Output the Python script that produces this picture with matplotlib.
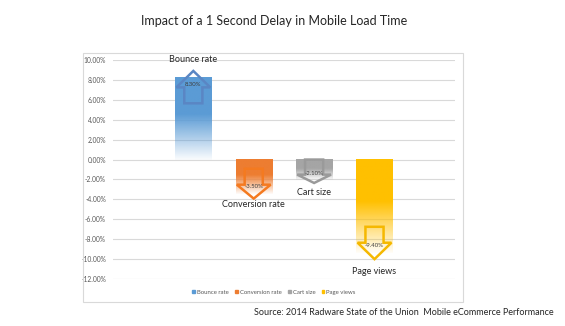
import numpy as np
import matplotlib.pyplot as plt
import matplotlib.patches as mpatches
from matplotlib.colors import to_rgb

plt.rcParams['font.family'] = ['Lato', 'DejaVu Sans']

metrics = ['Bounce rate', 'Conversion rate', 'Cart size', 'Page views']
impact = [8.3, -3.5, -2.1, -9.4]
yticks = list(range(-12, 11, 2))

colors = ['#5B9BD5', '#ED7D31', '#A5A5A5', '#FFC000']
edge_colors = ['#5A86C4', '#F47A20', '#9A9A9A', '#F5B800']
name_pad = [0.7, 0.15, 0.5, 0.8]   # gap between arrow tip and metric name

fig = plt.figure(figsize=(5.65, 3.26), dpi=100)
ax = fig.add_axes([0.2, 0.144, 0.605, 0.672])
xs = np.arange(len(metrics))
bar_w = 0.6

# bars: solid at top, fading out towards the bottom
t = np.linspace(0, 1, 120)
alpha = np.where(t < 0.45, 1.0, 1.0 - (t - 0.45) / 0.55 * 0.97)
for x, v, c in zip(xs, impact, colors):
    img = np.zeros((len(t), 1, 4))
    img[:, 0, :3] = to_rgb(c)
    img[:, 0, 3] = alpha
    ax.imshow(img, extent=(x - bar_w / 2, x + bar_w / 2, min(v, 0), max(v, 0)),
              aspect='auto', origin='upper', interpolation='bilinear', zorder=2)

# outline arrows inside each bar
for x, v, ec, name, pad in zip(xs, impact, edge_colors, metrics, name_pad):
    s = np.sign(v)
    tip = v + s * min(0.6, 0.12 * abs(v))
    base = tip - s * min(1.65, 0.4 * abs(v))
    tail = base - s * min(1.6, abs(base))
    sw, hw = 0.15, 0.28
    pts = [(x - sw, tail), (x - sw, base), (x - hw, base), (x, tip),
           (x + hw, base), (x + sw, base), (x + sw, tail)]
    ax.add_patch(mpatches.Polygon(pts, closed=True, fill=False, edgecolor=ec,
                                  lw=1.8, joinstyle='miter', zorder=3))
    ax.text(x, v - s * 0.75, f'{v:.2f}%', ha='center', va='center',
            fontsize=4.3, color='#404040', zorder=4)
    ax.text(x, tip + s * pad, name, ha='center', va='bottom' if v > 0 else 'top',
            fontsize=6.5, color='#262626', zorder=4, clip_on=False)

ax.set_xlim(-1.33, 4.33)
ax.set_ylim(-12, 10)
ax.set_yticks(yticks)
ax.set_yticklabels([f'{y:.2f}%' for y in yticks])
ax.set_xticks([])
ax.tick_params(axis='y', length=0, labelsize=4.8, labelcolor='#595959', pad=5)
ax.grid(axis='y', color='#D9D9D9', lw=0.8)
ax.set_axisbelow(True)
for sp in ax.spines.values():
    sp.set_visible(False)

handles = [mpatches.Patch(color=c, label=m) for c, m in zip(colors, metrics)]
fig.legend(handles=handles, loc='center', bbox_to_anchor=(0.485, 0.104), ncol=4,
           fontsize=4.3, frameon=False, handlelength=0.45, handleheight=0.45,
           handletextpad=0.3, columnspacing=1.1, labelcolor='#595959')

fig.patches.append(mpatches.Rectangle((83 / 565, 24 / 326), 380 / 565, 249 / 326,
                                      fill=False, edgecolor='#D9D9D9', lw=0.8,
                                      transform=fig.transFigure))

fig.text(0.485, 0.936, 'Impact of a 1 Second Delay in Mobile Load Time',
         ha='center', va='center', fontsize=9, color='#262626')
fig.text(0.979, 0.04, 'Source: 2014 Radware State of the Union  Mobile eCommerce Performance',
         ha='right', va='center', fontsize=6.5, color='#262626')

fig.savefig('out.png', dpi=100)
